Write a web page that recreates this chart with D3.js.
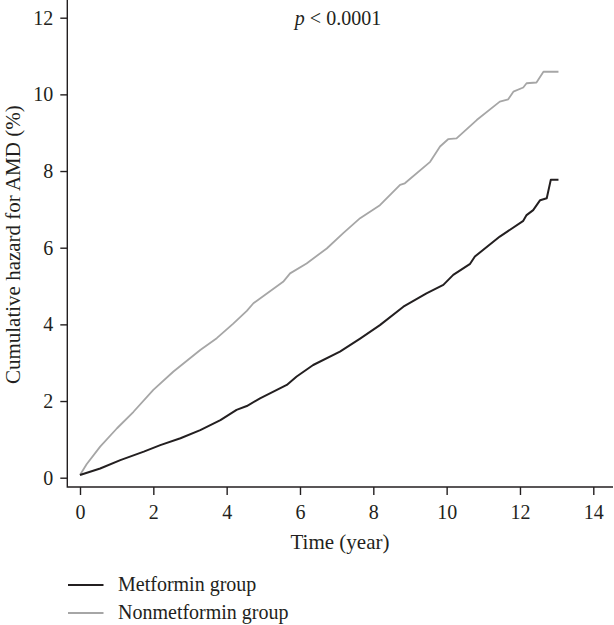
<!DOCTYPE html>
<html>
<head>
<meta charset="utf-8">
<script src="https://cdn.jsdelivr.net/npm/d3@7/dist/d3.min.js"></script>
<style>
  html, body { margin: 0; padding: 0; background: #ffffff; }
  svg { display: block; }
  text { font-family: "Liberation Serif", "Times New Roman", serif; fill: #231f20; }
</style>
</head>
<body>
<script>
// ---- data ----
const xTicks = [0, 2, 4, 6, 8, 10, 12, 14];
const yTicks = [0, 2, 4, 6, 8, 10, 12];

const metTime = [0, 0.55, 1.1, 1.74, 2.19, 2.74, 3.28, 3.83, 4.27, 4.55, 4.91, 5.64, 5.91, 6.36, 7.09, 7.64, 8.18, 8.82, 9.45, 9.91, 10.18, 10.64, 10.77, 11.45, 12.09, 12.18, 12.36, 12.55, 12.73, 12.84, 13.05];
const metHazard = [0.07, 0.24, 0.46, 0.68, 0.85, 1.03, 1.24, 1.5, 1.77, 1.87, 2.07, 2.42, 2.64, 2.94, 3.29, 3.63, 3.98, 4.46, 4.81, 5.03, 5.29, 5.58, 5.77, 6.29, 6.70, 6.85, 6.98, 7.24, 7.29, 7.77, 7.77];

const nonTime = [0, 0.18, 0.55, 1.01, 1.46, 2.0, 2.55, 3.28, 3.73, 4.18, 4.55, 4.73, 5.54, 5.73, 6.18, 6.73, 7.18, 7.64, 8.18, 8.73, 8.86, 9.55, 9.82, 10.04, 10.27, 10.82, 11.45, 11.68, 11.82, 12.09, 12.18, 12.45, 12.64, 13.05];
const nonHazard = [0.07, 0.35, 0.81, 1.29, 1.72, 2.29, 2.77, 3.33, 3.64, 4.02, 4.35, 4.55, 5.11, 5.33, 5.59, 5.98, 6.38, 6.77, 7.11, 7.64, 7.68, 8.24, 8.64, 8.83, 8.85, 9.33, 9.81, 9.87, 10.07, 10.18, 10.29, 10.31, 10.59, 10.59];

const seriesNames = ["Metformin group", "Nonmetformin group"];
const seriesColors = ["#231f20", "#a6a6a6"];
const pLabel = "< 0.0001";

// ---- layout ----
const W = 614, H = 625;
const axisX = 67.3, axisY = 487;
const x = d3.scaleLinear().domain([0, 14]).range([80, 593.3]);
const y = d3.scaleLinear().domain([0, 12]).range([477.7, 17.7]);

const svg = d3.select("body").append("svg").attr("width", W).attr("height", H);

// L-shaped frame
svg.append("path")
  .attr("d", `M${axisX},0 L${axisX},${axisY} L613,${axisY}`)
  .attr("fill", "none").attr("stroke", "#231f20").attr("stroke-width", 1.4);

// Y axis
const gy = svg.append("g").attr("transform", `translate(${axisX},0)`)
  .call(d3.axisLeft(y).tickValues(yTicks).tickSize(7).tickPadding(7).tickFormat(d3.format("d")));
gy.select(".domain").remove();
gy.selectAll(".tick line").attr("stroke", "#231f20").attr("stroke-width", 1.4);
gy.selectAll(".tick text").attr("font-size", 20).attr("font-family", "Liberation Serif").attr("fill", "#231f20");

// X axis
const gx = svg.append("g").attr("transform", `translate(0,${axisY})`)
  .call(d3.axisBottom(x).tickValues(xTicks).tickSize(8).tickPadding(10).tickFormat(d3.format("d")));
gx.select(".domain").remove();
gx.selectAll(".tick line").attr("stroke", "#231f20").attr("stroke-width", 1.4);
gx.selectAll(".tick text").attr("font-size", 20).attr("font-family", "Liberation Serif").attr("fill", "#231f20");

// Axis titles
svg.append("text").attr("x", 340).attr("y", 548.5).attr("text-anchor", "middle")
  .attr("font-size", 21).text("Time (year)");
svg.append("text").attr("transform", `translate(19.5,${(477.7 + 17.7) / 2 - 3}) rotate(-90)`)
  .attr("text-anchor", "middle").attr("font-size", 21).text("Cumulative hazard for AMD (%)");

// p-value
const pt = svg.append("text").attr("x", 338).attr("y", 25).attr("text-anchor", "middle").attr("font-size", 20);
pt.append("tspan").attr("font-style", "italic").text("p");
pt.append("tspan").text(" " + pLabel);

// Curves
const line = d3.line().x(d => x(d[0])).y(d => y(d[1])).curve(d3.curveLinear);
const nonData = nonTime.map((t, i) => [t, nonHazard[i]]);
const metData = metTime.map((t, i) => [t, metHazard[i]]);
svg.append("path").datum(nonData).attr("d", line).attr("fill", "none")
  .attr("stroke", seriesColors[1]).attr("stroke-width", 1.8).attr("stroke-linejoin", "round");
svg.append("path").datum(metData).attr("d", line).attr("fill", "none")
  .attr("stroke", seriesColors[0]).attr("stroke-width", 2).attr("stroke-linejoin", "round");

// Legend
const legY = [585, 613];
seriesNames.forEach((name, i) => {
  svg.append("line").attr("x1", 68).attr("x2", 103.5).attr("y1", legY[i]).attr("y2", legY[i])
    .attr("stroke", seriesColors[i]).attr("stroke-width", 1.8);
  svg.append("text").attr("x", 118).attr("y", legY[i] + 5.5).attr("font-size", 20).text(name);
});
</script>
</body>
</html>
